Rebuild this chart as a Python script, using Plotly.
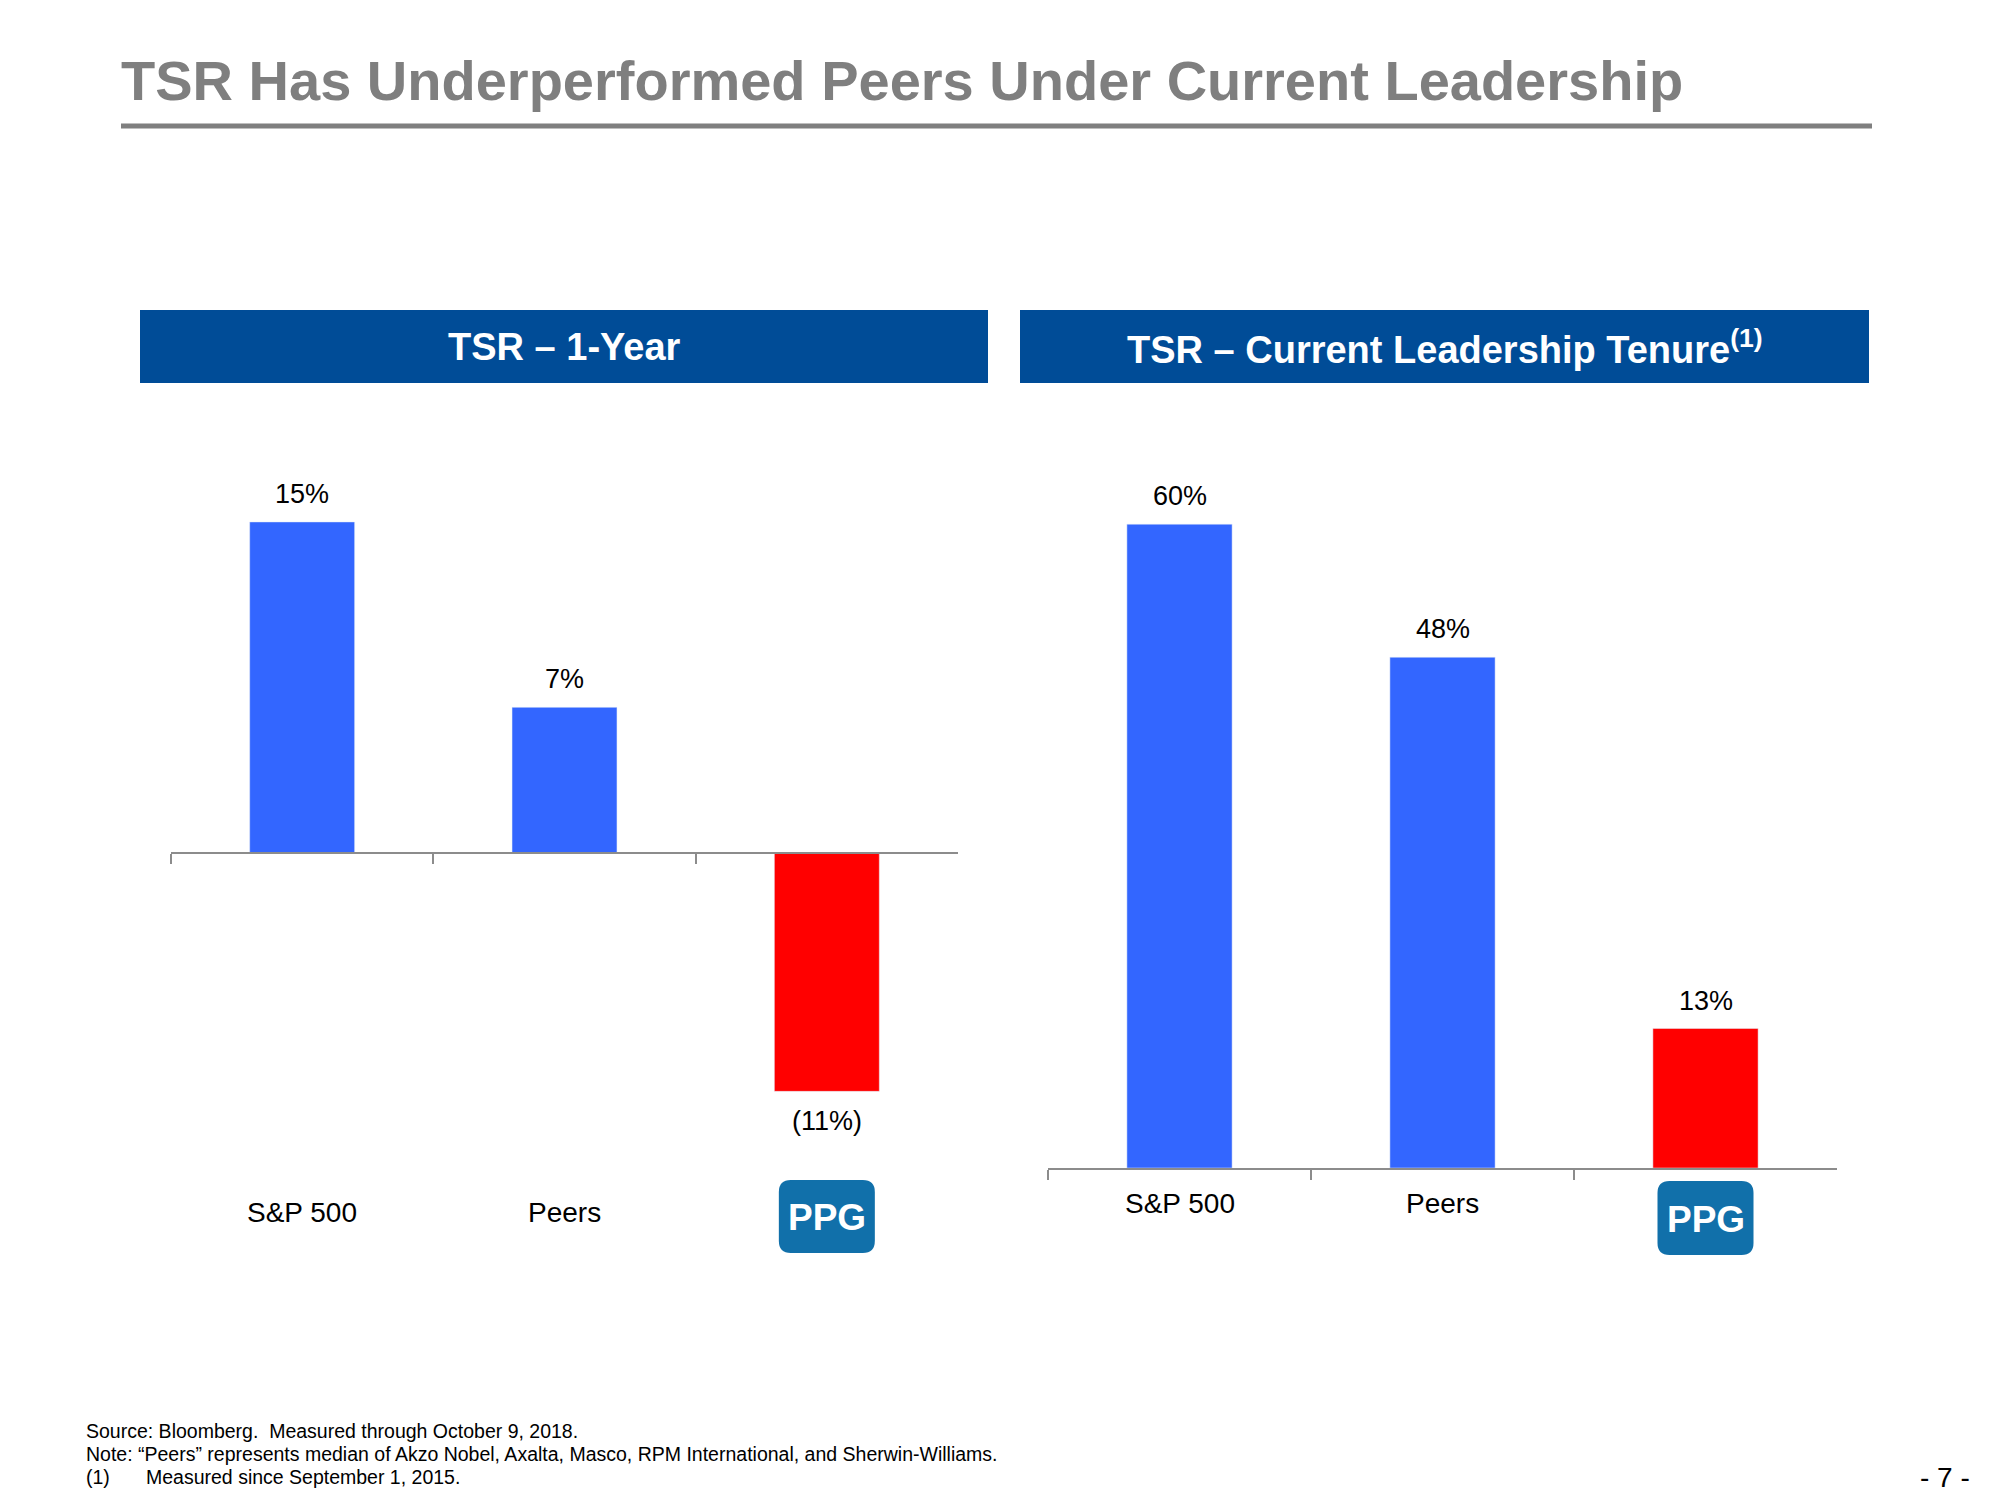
import plotly.graph_objects as go

# ---------------- data ----------------
categories = ["S&P 500", "Peers", "PPG"]
tsr_1yr = [15.0, 6.6, -10.8]
tsr_1yr_labels = ["15%", "7%", "(11%)"]
tsr_tenure = [60.0, 47.6, 13.0]
tsr_tenure_labels = ["60%", "48%", "13%"]
bar_colors = ["#3366FF", "#3366FF", "#FF0000"]

title_text = "TSR Has Underperformed Peers Under Current Leadership"
panel_titles = ["TSR – 1-Year", "TSR – Current Leadership Tenure<sup>(1)</sup>"]
footnotes = [
    "Source: Bloomberg.  Measured through October 9, 2018.",
    "Note: \u201cPeers\u201d represents median of Akzo Nobel, Axalta, Masco, RPM International, and Sherwin-Williams.",
]
footnote_1_mark = "(1)"
footnote_1_text = "Measured since September 1, 2015."
page_label = "- 7 -"

# ---------------- layout helpers ----------------
W, H = 2000, 1500
OFF = 8  # page body margin


def px(x):
    return (x - OFF) / W


def py(y):
    return 1 - (y - OFF) / H


FONT = "Liberation Sans, Arial, sans-serif"
TITLE_FONT = "Liberation Sans, Arial, sans-serif"
AXIS_COLOR = "#8c8c8c"
HEADER_BLUE = "#004C97"
LOGO_BLUE = "#1170AA"

# left panel geometry (pixels)
L_x0, L_x1 = 171, 958
L_zero = 853
L_top, L_bot = 400, 1150
L_scale = 22.07  # px per percent
# right panel geometry
R_x0, R_x1 = 1048, 1837
R_zero = 1168
R_top = 400
R_scale = 10.73

fig = go.Figure()

fig.add_trace(go.Bar(
    x=categories, y=tsr_1yr, marker_color=bar_colors, width=0.4,
    xaxis="x", yaxis="y", showlegend=False, hoverinfo="skip",
))
fig.add_trace(go.Bar(
    x=categories, y=tsr_tenure, marker_color=bar_colors, width=0.4,
    xaxis="x2", yaxis="y2", showlegend=False, hoverinfo="skip",
))

axis_common = dict(
    type="category", showgrid=False, zeroline=False, showline=True,
    linecolor=AXIS_COLOR, linewidth=2, ticks="outside", tickson="boundaries",
    ticklen=10, tickwidth=2, tickcolor=AXIS_COLOR, showticklabels=False,
    range=[-0.5, 2.5], fixedrange=True,
)

fig.update_layout(
    width=W, height=H,
    margin=dict(l=0, r=0, t=0, b=0),
    paper_bgcolor="white", plot_bgcolor="white",
    bargap=0.6,
    xaxis=dict(axis_common, domain=[px(L_x0), px(L_x1)], anchor="free",
               position=py(L_zero)),
    yaxis=dict(domain=[py(L_bot), py(L_top)],
               range=[-(L_bot - L_zero) / L_scale, (L_zero - L_top) / L_scale],
               visible=False, showgrid=False, zeroline=False),
    xaxis2=dict(axis_common, domain=[px(R_x0), px(R_x1)], anchor="y2"),
    yaxis2=dict(domain=[py(R_zero), py(R_top)],
                range=[0, (R_zero - R_top) / R_scale],
                visible=False, showgrid=False, zeroline=False),
)

shapes = []
annotations = []

# page title + rule
annotations.append(dict(
    text=f"<b>{title_text}</b>", x=px(119), y=py(80), xref="paper", yref="paper",
    xanchor="left", yanchor="middle", showarrow=False,
    font=dict(family=TITLE_FONT, size=56, color="#7F7F7F"),
))
shapes.append(dict(type="line", xref="paper", yref="paper",
                   x0=px(121), x1=px(1872), y0=py(126), y1=py(126),
                   line=dict(color="#7F7F7F", width=5)))

# panel headers
for (bx0, bx1), ttl in zip([(140, 988), (1020, 1869)], panel_titles):
    shapes.append(dict(type="rect", xref="paper", yref="paper",
                       x0=px(bx0), x1=px(bx1), y0=py(383), y1=py(310),
                       fillcolor=HEADER_BLUE, line=dict(width=0), layer="below"))
    annotations.append(dict(
        text=f"<b>{ttl}</b>", x=px((bx0 + bx1) / 2), y=py(347),
        xref="paper", yref="paper", xanchor="center", yanchor="middle",
        showarrow=False, font=dict(family=TITLE_FONT, size=38, color="white"),
    ))

# value labels
for xr, yr, vals, labs in [("x", "y", tsr_1yr, tsr_1yr_labels),
                            ("x2", "y2", tsr_tenure, tsr_tenure_labels)]:
    for c, v, lab in zip(categories, vals, labs):
        annotations.append(dict(
            text=lab, x=c, y=v, xref=xr, yref=yr, xanchor="center",
            yanchor="middle", yshift=28 if v >= 0 else -30, showarrow=False,
            font=dict(family=FONT, size=27, color="black"),
        ))

# category labels and PPG logos


def rounded_rect_path(x0, y0, x1, y1, r):
    # pixel coords -> paper path
    pts = [
        ("M", [(x0 + r, y0)]),
        ("L", [(x1 - r, y0)]),
        ("Q", [(x1, y0), (x1, y0 + r)]),
        ("L", [(x1, y1 - r)]),
        ("Q", [(x1, y1), (x1 - r, y1)]),
        ("L", [(x0 + r, y1)]),
        ("Q", [(x0, y1), (x0, y1 - r)]),
        ("L", [(x0, y0 + r)]),
        ("Q", [(x0, y0), (x0 + r, y0)]),
    ]
    s = ""
    for cmd, ps in pts:
        s += cmd + " " + " ".join(f"{px(a):.5f},{py(b):.5f}" for a, b in ps) + " "
    return s + "Z"


for xr, (ax0, ax1), label_y, logo_y in [("x", (L_x0, L_x1), 1212, (1180, 1253)),
                                         ("x2", (R_x0, R_x1), 1203, (1181, 1255))]:
    step = (ax1 - ax0) / len(categories)
    for i, c in enumerate(categories):
        if c == "PPG":
            cx = ax0 + step * (i + 0.5)
            lx0, lx1 = cx - 48, cx + 48
            shapes.append(dict(type="path", xref="paper", yref="paper",
                               path=rounded_rect_path(lx0, logo_y[0], lx1, logo_y[1], 12),
                               fillcolor=LOGO_BLUE, line=dict(width=0)))
            annotations.append(dict(
                text="<b>PPG</b>", x=px(cx), y=py((logo_y[0] + logo_y[1]) / 2 + 1),
                xref="paper", yref="paper", xanchor="center", yanchor="middle",
                showarrow=False,
                font=dict(family=TITLE_FONT, size=37, color="white"),
            ))
        else:
            annotations.append(dict(
                text=c, x=c, y=py(label_y), xref=xr, yref="paper",
                xanchor="center", yanchor="middle", showarrow=False,
                font=dict(family=FONT, size=28, color="black"),
            ))

# footnotes
FN_SIZE = 19.5
for i, t in enumerate(footnotes):
    annotations.append(dict(
        text=t, x=px(84), y=py(1431 + 23 * i), xref="paper", yref="paper",
        xanchor="left", yanchor="middle", showarrow=False,
        font=dict(family=FONT, size=FN_SIZE, color="black"),
    ))
annotations.append(dict(
    text=footnote_1_mark, x=px(84), y=py(1477), xref="paper", yref="paper",
    xanchor="left", yanchor="middle", showarrow=False,
    font=dict(family=FONT, size=FN_SIZE, color="black"),
))
annotations.append(dict(
    text=footnote_1_text, x=px(144), y=py(1477), xref="paper", yref="paper",
    xanchor="left", yanchor="middle", showarrow=False,
    font=dict(family=FONT, size=FN_SIZE, color="black"),
))
annotations.append(dict(
    text=page_label, x=px(1972), y=py(1477), xref="paper", yref="paper",
    xanchor="right", yanchor="middle", showarrow=False,
    font=dict(family=FONT, size=28, color="black"),
))

fig.update_layout(shapes=shapes, annotations=annotations)

fig.write_html("out.html")
